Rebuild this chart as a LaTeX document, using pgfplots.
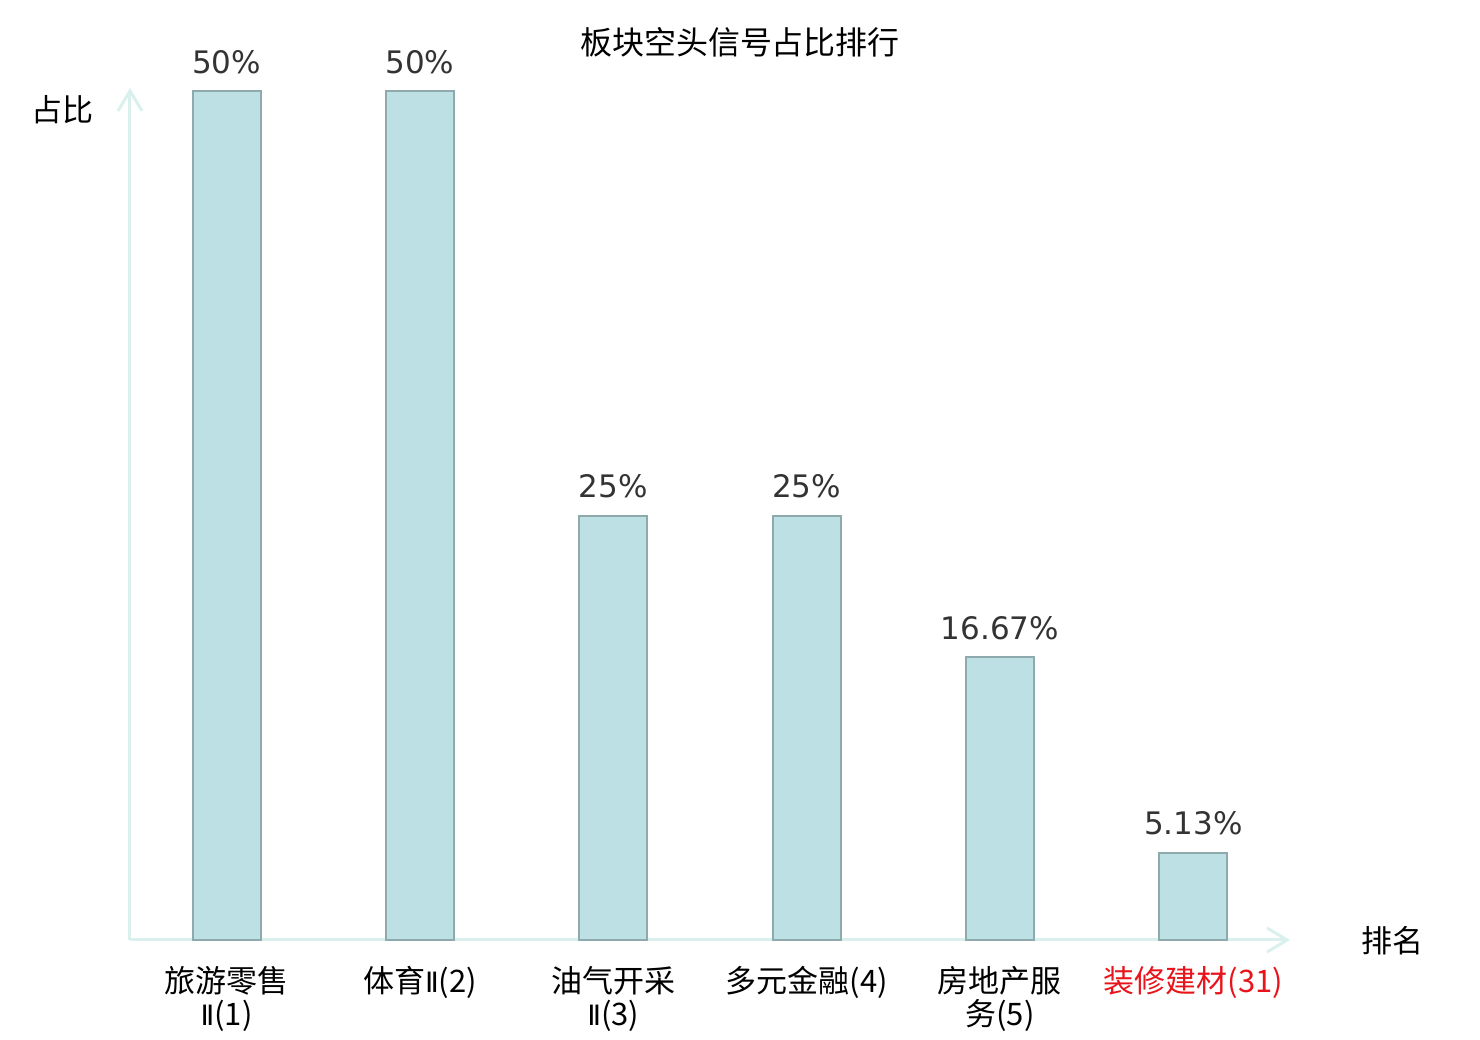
\documentclass[border=0pt]{standalone}
\usepackage{pgfplots}
\pgfplotsset{compat=1.18}
\usepackage{pgfplotstable}
\usepackage{fontspec}
\usetikzlibrary{arrows.meta}
\setmainfont{DejaVu Sans}
\newfontfamily\cjk{Noto Sans CJK SC}
\newfontfamily\dejavu{DejaVu Sans}
\newcommand{\II}{{\dejavu\fontsize{14}{16}\selectfont Ⅱ}}
\definecolor{barfill}{HTML}{BCE0E3}
\definecolor{barline}{HTML}{8FAAAC}
\definecolor{axiscol}{HTML}{DAF0EC}
\definecolor{valcol}{HTML}{333333}
\definecolor{redlab}{HTML}{E8141B}
\pgfplotstableread{
x y lab
0 50 50\%
1 50 50\%
2 25 25\%
3 25 25\%
4 16.67 16.67\%
5 5.13 5.13\%
}\datatable
\begin{document}
\begin{tikzpicture}
\useasboundingbox (-65pt,-50pt) rectangle (675pt,470pt);
\begin{axis}[
  at={(0,0)}, anchor=south west,
  scale only axis,
  width=580pt, height=426pt,
  xmin=-0.5, xmax=5.5,
  ymin=0, ymax=50.2,
  axis lines=left,
  axis line style={draw=axiscol, line width=1.5pt, -{Straight Barb[length=10pt,width=12pt,line width=1.5pt]}},
  ytick=\empty,
  xtick={0,1,2,3,4,5},
  xticklabels={{旅游零售\\\II(1)},{体育\II(2)},{油气开采\\\II(3)},{多元金融(4)},{房地产服\\务(5)},{\textcolor{redlab}{装修建材(31)}}},
  major tick length=0pt,
  xticklabel style={font=\cjk\fontsize{15.5}{16.5}\selectfont, align=center, anchor=north, inner sep=0pt, yshift=-13pt},
  clip=false,
  ybar, bar width=34pt,
  nodes near coords,
  point meta=explicit symbolic,
  nodes near coords style={font=\dejavu\fontsize{15.5}{18}\selectfont, text=valcol, anchor=base, inner sep=0pt, yshift=9pt},
]
\addplot[fill=barfill, draw=barline, line width=1pt] table[x=x, y=y, meta=lab] {\datatable};
\end{axis}
\node[font=\cjk\fontsize{16}{18}\selectfont] at (305pt,449pt) {板块空头信号占比排行};
\node[font=\cjk\fontsize{15.5}{18}\selectfont] at (-33.5pt,415pt) {占比};
\node[font=\cjk\fontsize{15.5}{18}\selectfont] at (631pt,-0.5pt) {排名};
\end{tikzpicture}
\end{document}
